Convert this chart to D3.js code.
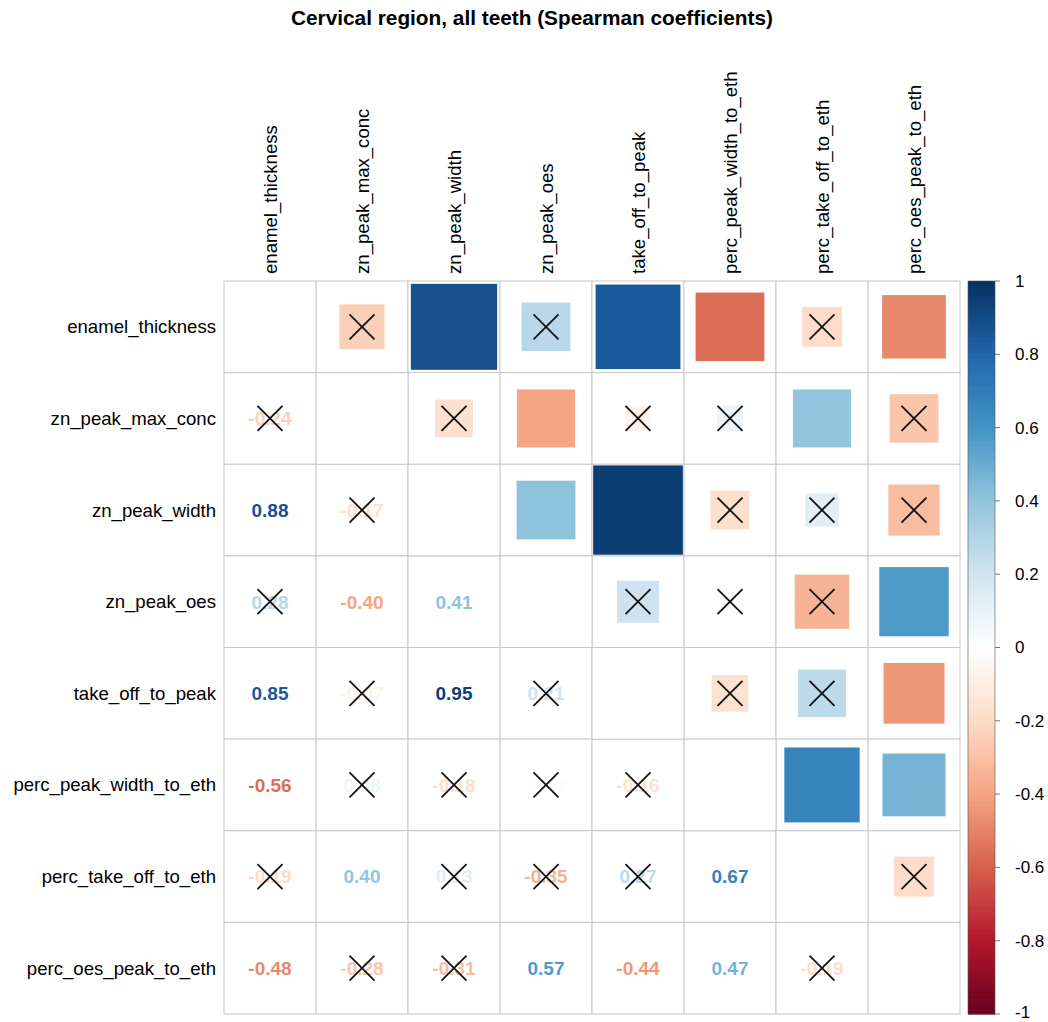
<!DOCTYPE html>
<html>
<head>
<meta charset="utf-8">
<script src="https://cdn.jsdelivr.net/npm/d3@7"></script>
<style>
  html, body { margin: 0; padding: 0; background: #ffffff; }
  svg { display: block; font-family: "Liberation Sans", Arial, Helvetica, sans-serif; }
</style>
</head>
<body>
<svg id="chart" width="1048" height="1022"></svg>
<script>
// Variables, in plot order
const variables = [
  "enamel_thickness", "zn_peak_max_conc", "zn_peak_width", "zn_peak_oes",
  "take_off_to_peak", "perc_peak_width_to_eth", "perc_take_off_to_eth", "perc_oes_peak_to_eth"
];

// Lower triangle of the Spearman matrix: row i holds r(i, j) for j < i
const lowerTriangle = [
  [],
  [-0.24],
  [0.88, -0.17],
  [0.28, -0.40, 0.41],
  [0.85, -0.07, 0.95, 0.21],
  [-0.56, 0.08, -0.18, -0.02, -0.16],
  [-0.19, 0.40, 0.13, -0.35, 0.27, 0.67],
  [-0.48, -0.28, -0.31, 0.57, -0.44, 0.47, -0.19]
];

// Pairs (row, col) with p above the significance level, marked with a cross
const insignificantPairs = [
  [1, 0], [2, 1], [3, 0], [4, 1], [4, 3], [5, 1], [5, 2], [5, 3], [5, 4],
  [6, 0], [6, 2], [6, 3], [6, 4], [7, 1], [7, 2], [7, 6]
];

// Colour legend ticks
const legendTicks = [1, 0.8, 0.6, 0.4, 0.2, 0, -0.2, -0.4, -0.6, -0.8, -1];

// RdBu diverging palette anchors (from -1 to 1)
const paletteColors = ["#67001F", "#B2182B", "#D6604D", "#F4A582", "#FDDBC7", "#FFFFFF",
                       "#D1E5F0", "#92C5DE", "#4393C3", "#2166AC", "#053061"];

const title = "Cervical region, all teeth (Spearman coefficients)";

const svg = d3.select("#chart");

const color = d3.scaleLinear()
  .domain(d3.range(paletteColors.length).map(i => -1 + 2 * i / (paletteColors.length - 1)))
  .range(paletteColors)
  .interpolate(d3.interpolateRgb);

// Two decimals with a plain hyphen for negatives
const fmt = v => d3.format(".2f")(v).replace("\u2212", "-");

const x = d3.scaleBand().domain(variables).range([224, 960]);
const y = d3.scaleBand().domain(variables).range([281, 1014]);

// Build full cell list
const crossed = new Set();
insignificantPairs.forEach(([i, j]) => { crossed.add(i + "," + j); crossed.add(j + "," + i); });
const cells = [];
lowerTriangle.forEach((row, i) => row.forEach((r, j) => {
  cells.push({ row: i, col: j, r, lower: true });
  cells.push({ row: j, col: i, r, lower: false });
}));
variables.forEach((v, i) => cells.push({ row: i, col: i, r: null, lower: false }));

// Title
svg.append("text")
  .attr("x", 532).attr("y", 25)
  .attr("text-anchor", "middle")
  .attr("font-weight", "bold")
  .attr("font-size", 20.8)
  .text(title);

// Grid
const grid = svg.append("g");
grid.selectAll("rect").data(cells).join("rect")
  .attr("x", d => x(variables[d.col]))
  .attr("y", d => y(variables[d.row]))
  .attr("width", x.bandwidth())
  .attr("height", y.bandwidth())
  .attr("fill", "#ffffff")
  .attr("stroke", "#c8c8c8")
  .attr("stroke-width", 1);

// Upper triangle: squares scaled by sqrt(|r|)
const upper = cells.filter(d => !d.lower && d.r !== null);
svg.append("g").selectAll("rect").data(upper).join("rect")
  .attr("x", d => x(variables[d.col]) + x.bandwidth() * (1 - Math.sqrt(Math.abs(d.r))) / 2)
  .attr("y", d => y(variables[d.row]) + y.bandwidth() * (1 - Math.sqrt(Math.abs(d.r))) / 2)
  .attr("width", d => x.bandwidth() * Math.sqrt(Math.abs(d.r)))
  .attr("height", d => y.bandwidth() * Math.sqrt(Math.abs(d.r)))
  .attr("fill", d => color(d.r));

// Lower triangle: coefficient labels
const lower = cells.filter(d => d.lower);
svg.append("g").selectAll("text").data(lower).join("text")
  .attr("x", d => x(variables[d.col]) + x.bandwidth() / 2)
  .attr("y", d => y(variables[d.row]) + y.bandwidth() / 2)
  .attr("dy", "0.36em")
  .attr("text-anchor", "middle")
  .attr("font-weight", "bold")
  .attr("font-size", 19)
  .attr("fill", d => color(d.r))
  .text(d => fmt(d.r));

// Crosses for non-significant coefficients
const crosses = cells.filter(d => d.r !== null && crossed.has(d.row + "," + d.col));
const cx = svg.append("g").attr("stroke", "#111").attr("stroke-width", 1.8);
crosses.forEach(d => {
  const mx = x(variables[d.col]) + x.bandwidth() / 2;
  const my = y(variables[d.row]) + y.bandwidth() / 2;
  const h = 12.5;
  cx.append("line").attr("x1", mx - h).attr("y1", my - h).attr("x2", mx + h).attr("y2", my + h);
  cx.append("line").attr("x1", mx - h).attr("y1", my + h).attr("x2", mx + h).attr("y2", my - h);
});

// Row labels
svg.append("g").selectAll("text").data(variables).join("text")
  .attr("x", 216)
  .attr("y", d => y(d) + y.bandwidth() / 2)
  .attr("dy", "0.35em")
  .attr("text-anchor", "end")
  .attr("font-size", 18.6)
  .attr("fill", "#000")
  .text(d => d);

// Column labels (rotated)
svg.append("g").selectAll("text").data(variables).join("text")
  .attr("transform", d => `translate(${x(d) + x.bandwidth() / 2},274) rotate(-90)`)
  .attr("dy", "0.35em")
  .attr("text-anchor", "start")
  .attr("font-size", 18.6)
  .attr("fill", "#000")
  .text(d => d);

// Colour legend
const legendX = 968, legendW = 27;
const ly = d3.scaleLinear().domain([-1, 1]).range([1014, 281]);
const steps = d3.range(200).map(i => -1 + (i + 0.5) * 2 / 200);
const legend = svg.append("g");
legend.selectAll("rect").data(steps).join("rect")
  .attr("x", legendX)
  .attr("y", d => ly(d + 1 / 200))
  .attr("width", legendW)
  .attr("height", ly(-1) - ly(-1 + 2 / 200) + 0.6)
  .attr("fill", d => color(d));
legend.append("rect")
  .attr("x", legendX).attr("y", ly(1))
  .attr("width", legendW).attr("height", ly(-1) - ly(1))
  .attr("fill", "none").attr("stroke", "#555").attr("stroke-width", 0.6);
legend.selectAll("line").data(legendTicks).join("line")
  .attr("x1", legendX + legendW).attr("x2", legendX + legendW + 5)
  .attr("y1", d => ly(d)).attr("y2", d => ly(d))
  .attr("stroke", "#555").attr("stroke-width", 0.8);
legend.selectAll("text").data(legendTicks).join("text")
  .attr("x", legendX + legendW + 20)
  .attr("y", d => Math.min(ly(d), 1012))
  .attr("dy", "0.35em")
  .attr("font-size", 17)
  .attr("fill", "#000")
  .text(d => String(d));
</script>
</body>
</html>
